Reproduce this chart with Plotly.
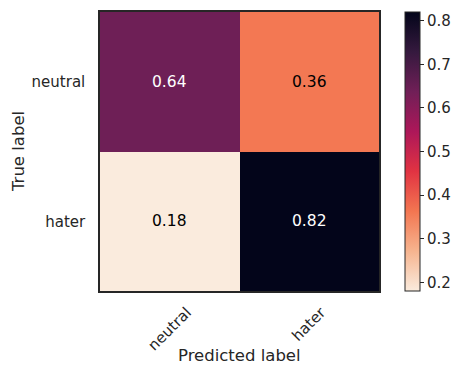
import plotly.graph_objects as go

# Normalised confusion matrix
true_labels = ["neutral", "hater"]
pred_labels = ["neutral", "hater"]
values = [
    [0.64, 0.36],
    [0.18, 0.82],
]
cbar_ticks = [0.2, 0.3, 0.4, 0.5, 0.6, 0.7, 0.8]

# seaborn "rocket" reversed: light for low values, dark for high values
rocket = ["#03051A", "#35193E", "#701F57", "#AD1759",
          "#E13342", "#F37651", "#F6B48F", "#FAEBDD"]
rocket_r = rocket[::-1]
colorscale = [[i / (len(rocket_r) - 1), c] for i, c in enumerate(rocket_r)]

FONT = "DejaVu Sans"
INK = "#262626"

zmin = min(min(r) for r in values)
zmax = max(max(r) for r in values)
mid = (zmin + zmax) / 2
text_colors = [["white" if v > mid else "black" for v in row] for row in values]

fig = go.Figure()
fig.add_trace(go.Heatmap(
    z=values,
    x=pred_labels,
    y=true_labels,
    zmin=zmin, zmax=zmax,
    colorscale=colorscale,
    showscale=True,
    colorbar=dict(
        x=1.092, xanchor="left", xpad=0, ypad=0,
        y=0.5, yanchor="middle", len=1, lenmode="fraction",
        thickness=15,
        outlinecolor=INK, outlinewidth=1,
        tickvals=cbar_ticks,
        ticktext=[f"{t:.1f}" for t in cbar_ticks],
        ticks="outside", ticklen=4, tickwidth=1, tickcolor=INK,
        tickfont=dict(family=FONT, size=15, color=INK),
    ),
    hoverinfo="skip",
))

# cell value labels
for i, t in enumerate(true_labels):
    for j, p in enumerate(pred_labels):
        fig.add_annotation(
            x=p, y=t, xref="x", yref="y",
            text=f"{values[i][j]:.2f}", showarrow=False,
            font=dict(family=FONT, size=15.5, color=text_colors[i][j]),
        )

# rotated predicted-label tick text, centred under each column
for p in pred_labels:
    fig.add_annotation(
        x=p, xref="x", y=-0.035, yref="paper",
        text=p, textangle=-45, showarrow=False,
        xanchor="center", yanchor="top",
        font=dict(family=FONT, size=15, color=INK),
    )

fig.add_annotation(
    x=0.5, xref="paper", y=-0.19, yref="paper",
    text="Predicted label", showarrow=False,
    xanchor="center", yanchor="top",
    font=dict(family=FONT, size=16.5, color=INK),
)
fig.add_annotation(
    x=-0.292, xref="paper", y=0.5, yref="paper",
    text="True label", textangle=-90, showarrow=False,
    xanchor="center", yanchor="middle",
    font=dict(family=FONT, size=16.5, color=INK),
)

fig.update_xaxes(
    showticklabels=False, ticks="",
    showline=True, linecolor=INK, linewidth=1.5, mirror=True,
    showgrid=False, zeroline=False,
)
fig.update_yaxes(
    autorange="reversed",
    ticks="", ticklabelstandoff=10,
    tickfont=dict(family=FONT, size=15, color=INK),
    showline=True, linecolor=INK, linewidth=1.5, mirror=True,
    showgrid=False, zeroline=False,
)

fig.update_layout(
    width=461, height=375,
    margin=dict(l=100, r=79, t=10, b=84),
    paper_bgcolor="white", plot_bgcolor="white",
    font=dict(family=FONT, color=INK),
    showlegend=False,
)

fig.write_html("out.html")
